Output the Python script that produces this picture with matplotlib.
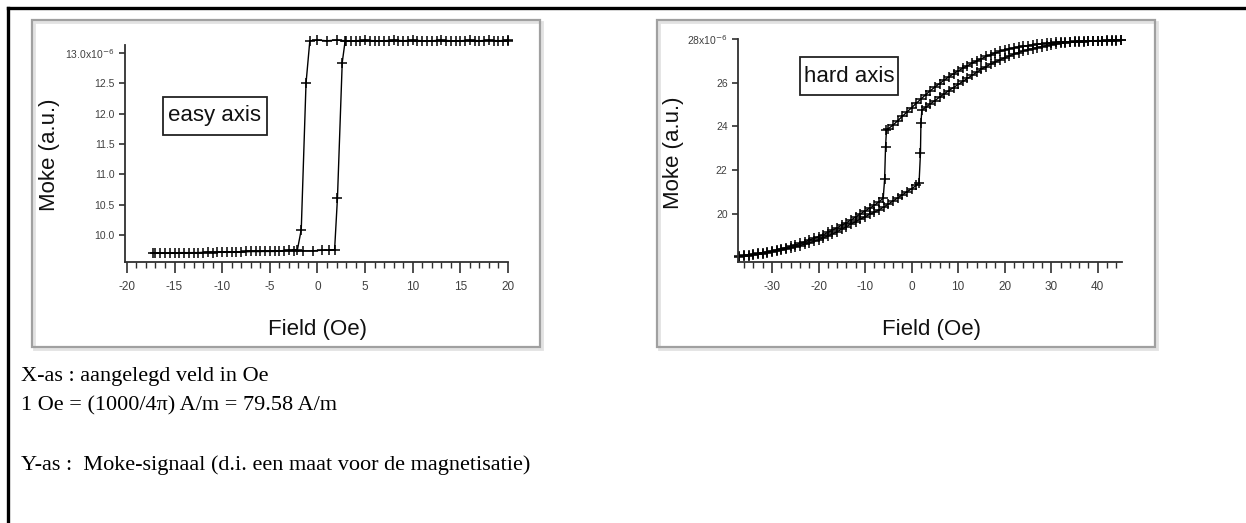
import matplotlib
matplotlib.use('Agg')
import matplotlib.pyplot as plt
from matplotlib.patches import Rectangle
from matplotlib.lines import Line2D
from matplotlib.ticker import MultipleLocator, FixedLocator, FixedFormatter

plt.rcParams['axes.unicode_minus'] = False

# ---------------- data (Moke signal in units of 1e-6, field in Oe) ----------------
easy_down_field = [20, 19, 18, 17, 16, 15, 14, 13, 12, 11, 10, 9, 8, 7, 6, 5, 4, 3, 2, 1, 0,
                   -0.8, -1.2, -1.7, -2.1, -3, -4, -5, -6, -7, -8, -9, -10, -11, -12, -13,
                   -14, -15, -16, -17]
easy_down_moke = [13.21, 13.20, 13.21, 13.20, 13.21, 13.20, 13.20, 13.21, 13.20, 13.20, 13.21,
                  13.20, 13.21, 13.20, 13.20, 13.21, 13.20, 13.20, 13.21, 13.20, 13.21,
                  13.20, 12.50, 10.09, 9.76, 9.75, 9.74, 9.74, 9.73, 9.73, 9.72, 9.72, 9.72,
                  9.71, 9.71, 9.71, 9.70, 9.70, 9.70, 9.70]
easy_up_field = [-17.3, -16.5, -15.5, -14.5, -13.5, -12.5, -11.5, -10.5, -9.5, -8.5, -7.5,
                 -6.5, -5.5, -4.5, -3.5, -2.5, -1.5, -0.5, 0.5, 1.2, 1.8, 2.1, 2.6, 2.9,
                 3.5, 4.5, 5.5, 6.5, 7.5, 8.5, 9.5, 10.5, 11.5, 12.5, 13.5, 14.5, 15.5,
                 16.5, 17.5, 18.5, 19.5, 20]
easy_up_moke = [9.70, 9.70, 9.70, 9.71, 9.71, 9.71, 9.72, 9.72, 9.72, 9.72, 9.73, 9.73,
                9.73, 9.73, 9.74, 9.74, 9.74, 9.74, 9.75, 9.75, 9.76, 10.61, 12.84, 13.19,
                13.20, 13.19, 13.20, 13.20, 13.19, 13.20, 13.20, 13.19, 13.20, 13.20, 13.19,
                13.20, 13.20, 13.19, 13.20, 13.20, 13.19, 13.20]

hard_down_field = [45, 44, 43, 42, 41, 40, 39, 38, 37, 36, 35, 34, 33, 32, 31, 30, 29, 28,
                   27, 26, 25, 24, 23, 22, 21, 20, 19, 18, 17, 16, 15, 14, 13, 12, 11, 10,
                   9, 8, 7, 6, 5, 4, 3, 2, 1, 0, -1, -2, -3, -4, -5,
                   -5.4, -5.6, -5.8, -6.1,
                   -7, -8, -9, -10, -11, -12, -13, -14, -15, -16, -17, -18, -19, -20, -21,
                   -22, -23, -24, -25, -26, -27, -28, -29, -30, -31, -32, -33, -34, -35,
                   -36, -37]
hard_down_moke = [27.95, 27.95, 27.94, 27.94, 27.93, 27.93, 27.92, 27.92, 27.91, 27.90,
                  27.89, 27.88, 27.87, 27.86, 27.84, 27.82, 27.80, 27.78, 27.76, 27.73,
                  27.70, 27.67, 27.64, 27.60, 27.55, 27.50, 27.43, 27.36, 27.28, 27.20,
                  27.10, 27.00, 26.89, 26.78, 26.66, 26.54, 26.41, 26.27, 26.12, 25.96,
                  25.80, 25.63, 25.45, 25.25, 25.06, 24.86, 24.66, 24.46, 24.26, 24.06,
                  23.90,
                  23.84, 23.08, 21.59, 20.72,
                  20.55, 20.40, 20.26, 20.14, 20.00, 19.86, 19.72, 19.60, 19.48, 19.37,
                  19.26, 19.15, 19.05, 18.96, 18.88, 18.80, 18.72, 18.65, 18.58, 18.52,
                  18.46, 18.41, 18.36, 18.31, 18.27, 18.23, 18.19, 18.16, 18.13, 18.10,
                  18.08]
hard_up_field = [-37, -36, -35, -34, -33, -32, -31, -30, -29, -28, -27, -26, -25, -24, -23,
                 -22, -21, -20, -19, -18, -17, -16, -15, -14, -13, -12, -11, -10, -9, -8,
                 -7, -6, -5, -4, -3, -2, -1, 0, 1,
                 1.6, 1.9, 2.0, 2.2,
                 3, 4, 5, 6, 7, 8, 9, 10, 11, 12, 13, 14, 15, 16, 17, 18, 19, 20, 21, 22,
                 23, 24, 25, 26, 27, 28, 29, 30, 31, 32, 33, 34, 35, 36, 37, 38, 39, 40,
                 41, 42, 43, 44, 45]
hard_up_moke = [18.05, 18.07, 18.09, 18.12, 18.15, 18.18, 18.22, 18.26, 18.30, 18.34, 18.39,
                18.44, 18.49, 18.55, 18.61, 18.67, 18.74, 18.82, 18.90, 18.99, 19.08, 19.19,
                19.30, 19.42, 19.54, 19.65, 19.76, 19.87, 19.98, 20.08, 20.19, 20.31, 20.45,
                20.59, 20.73, 20.87, 21.01, 21.15, 21.30,
                21.42, 22.77, 24.15, 24.75,
                24.87, 25.03, 25.18, 25.34, 25.49, 25.64, 25.78, 25.92, 26.06, 26.20, 26.34,
                26.48, 26.62, 26.74, 26.85, 26.95, 27.05, 27.14, 27.22, 27.31, 27.38, 27.45,
                27.51, 27.56, 27.61, 27.65, 27.70, 27.74, 27.77, 27.80, 27.82, 27.84, 27.86,
                27.87, 27.88, 27.89, 27.90, 27.91, 27.92, 27.92, 27.93, 27.93, 27.94]

easy_yticks = [10.0, 10.5, 11.0, 11.5, 12.0, 12.5, 13.0]
easy_ytick_labels = ["10.0", "10.5", "11.0", "11.5", "12.0", "12.5", "13.0x10$^{-6}$"]
hard_yticks = [20, 22, 24, 26, 28]
hard_ytick_labels = ["20", "22", "24", "26", "28x10$^{-6}$"]

notes = ["X-as : aangelegd veld in Oe",
         "1 Oe = (1000/4\u03c0) A/m = 79.58 A/m",
         "Y-as :  Moke-signaal (d.i. een maat voor de magnetisatie)"]

# ---------------- figure ----------------
W, H = 1246, 523
fig = plt.figure(figsize=(W / 100, H / 100), dpi=100)
fig.patch.set_facecolor('white')
SANS = 'Liberation Sans'
SERIF = 'Liberation Serif'


def fx(x):
    return x / W


def fy(y):
    return 1 - y / H


# outer page border (top + left)
fig.add_artist(Line2D([fx(8), 1.0], [fy(8), fy(8)], color='black', lw=2.4,
                      transform=fig.transFigure))
fig.add_artist(Line2D([fx(8), fx(8)], [fy(8), 0.0], color='black', lw=2.4,
                      transform=fig.transFigure))

# panel frames with a faint shadow
for (x0, y0, x1, y1) in [(32, 20, 540, 347), (657, 20, 1155, 347)]:
    fig.add_artist(Rectangle((fx(x0 + 2), fy(y1 + 2)), (x1 - x0) / W, (y1 - y0) / H,
                             transform=fig.transFigure, fill=False, ec='#e2e2e2', lw=2.0))
    fig.add_artist(Rectangle((fx(x0), fy(y1)), (x1 - x0) / W, (y1 - y0) / H,
                             transform=fig.transFigure, fill=False, ec='#a0a0a0', lw=1.6))


def style_axes(ax):
    for s in ['top', 'right']:
        ax.spines[s].set_visible(False)
    for s in ['left', 'bottom']:
        ax.spines[s].set_color('#303030')
        ax.spines[s].set_linewidth(1.3)
    ax.patch.set_alpha(0)
    ax.tick_params(axis='x', which='major', direction='out', length=8, width=1.2,
                   color='#303030', pad=6, labelsize=8.5, labelcolor='#404040')
    ax.tick_params(axis='x', which='minor', direction='out', length=4, width=1.0,
                   color='#303030')
    ax.tick_params(axis='y', which='major', direction='out', length=4.5, width=1.2,
                   color='#303030', pad=3, labelsize=7.5, labelcolor='#404040')
    for lab in ax.get_xticklabels() + ax.get_yticklabels():
        lab.set_family(SANS)


mk = dict(color='black', lw=1.0, marker='+', ms=6.5, mew=1.1, clip_on=False)

# easy axis panel
ax1 = fig.add_axes([fx(125), fy(262), (508 - 125) / W, (262 - 45) / H])
ax1.plot(easy_down_field, easy_down_moke, **mk)
ax1.plot(easy_up_field, easy_up_moke, **mk)
ax1.set_xlim(-20.2, 20.0)
ax1.set_ylim(9.556, 13.13)
ax1.xaxis.set_major_locator(MultipleLocator(5))
ax1.xaxis.set_minor_locator(MultipleLocator(1))
ax1.yaxis.set_major_locator(FixedLocator(easy_yticks))
ax1.yaxis.set_major_formatter(FixedFormatter(easy_ytick_labels))
style_axes(ax1)

# hard axis panel
ax2 = fig.add_axes([fx(738), fy(262), (1122 - 738) / W, (262 - 39) / H])
ax2.plot(hard_down_field, hard_down_moke, **mk)
ax2.plot(hard_up_field, hard_up_moke, **mk)
ax2.set_xlim(-37.3, 45.2)
ax2.set_ylim(17.8, 28.0)
ax2.xaxis.set_major_locator(MultipleLocator(10))
ax2.xaxis.set_minor_locator(MultipleLocator(2))
ax2.yaxis.set_major_locator(FixedLocator(hard_yticks))
ax2.yaxis.set_major_formatter(FixedFormatter(hard_ytick_labels))
style_axes(ax2)

# axis titles
for (x, y) in [(50, 155), (673, 153)]:
    fig.text(fx(x), fy(y), "Moke (a.u.)", rotation=90, ha='center', va='center',
             family=SANS, fontsize=16, color='#111111')
for (x, y) in [(318, 330), (932, 330)]:
    fig.text(fx(x), fy(y), "Field (Oe)", ha='center', va='center',
             family=SANS, fontsize=16, color='#111111')

# label boxes
for (label, x0, y0, x1, y1) in [("easy axis", 163, 97, 267, 135),
                                ("hard axis", 800, 57, 898, 95)]:
    fig.add_artist(Rectangle((fx(x0), fy(y1)), (x1 - x0) / W, (y1 - y0) / H,
                             transform=fig.transFigure, fill=False, ec='#222222', lw=1.3))
    fig.text(fx((x0 + x1) / 2), fy((y0 + y1) / 2), label, ha='center', va='center',
             family=SANS, fontsize=16, color='#111111')

# explanatory notes
for text, y in zip(notes, [377, 406, 465]):
    fig.text(fx(21), fy(y), text, ha='left', va='center', family=SERIF, fontsize=16,
             color='black')

fig.savefig('out.png', dpi=100, facecolor='white')
